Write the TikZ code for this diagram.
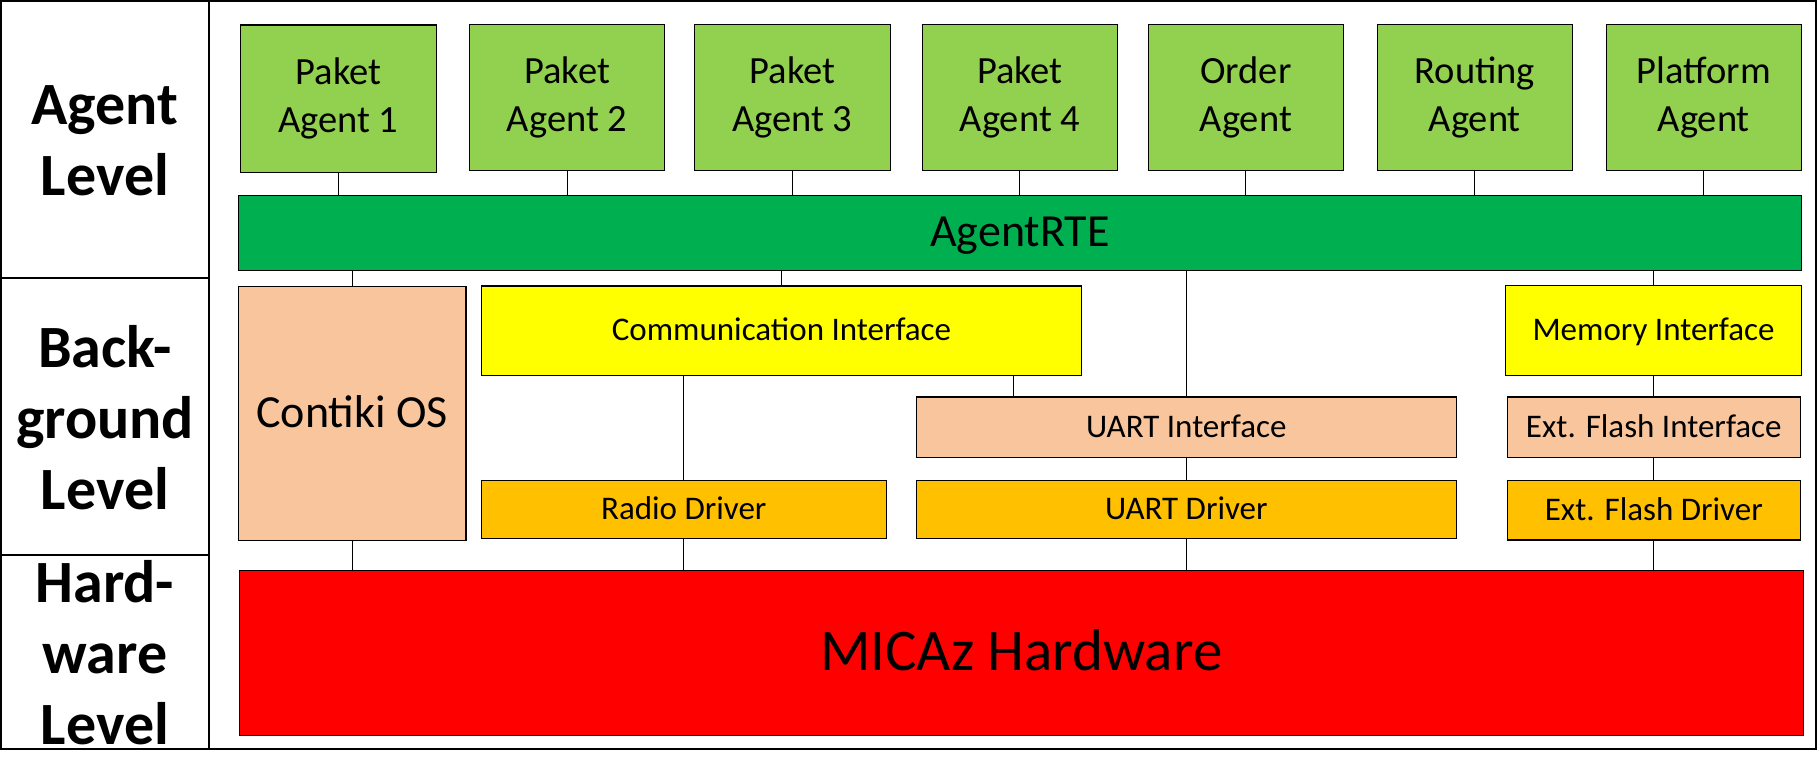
\documentclass[tikz,border=0pt]{standalone}
\usepackage{fontspec}
\setmainfont{Carlito}
\definecolor{agentgreen}{HTML}{92D050}
\definecolor{rtegreen}{HTML}{00B050}
\definecolor{ifyellow}{HTML}{FFFF00}
\definecolor{peach}{HTML}{F8C59C}
\definecolor{drvorange}{HTML}{FFC000}
\definecolor{hwred}{HTML}{FF0000}
\begin{document}
\begin{tikzpicture}[x=1pt,y=-1pt,
  box/.style={draw=black,line width=1.4pt,inner sep=0pt,align=center,anchor=center},
  agentbox/.style={box,fill=agentgreen,minimum height=146pt,font=\fontsize{38.5}{48}\selectfont},
  ifbox/.style={box,text height=19.8pt,text depth=0pt,font=\fontsize{33}{40}\selectfont},
  midbox/.style={box,text height=27.6pt,text depth=0pt,font=\fontsize{46}{54}\selectfont},
  bigbox/.style={box,text height=35.4pt,text depth=0pt,font=\fontsize{59}{70}\selectfont},
  lvl/.style={align=center,inner sep=0pt,font=\fontsize{60}{71}\selectfont\bfseries},
  conn/.style={draw=black,line width=1pt},
  frameline/.style={draw=black,line width=2pt}]
\useasboundingbox (0,0) rectangle (1819,761);
% frame
\draw[frameline] (1,1) rectangle (1816,749);
\draw[frameline] (209.3,1) -- (209.3,749);
\draw[frameline] (1,278) -- (209.3,278);
\draw[frameline] (1,555) -- (209.3,555);
% level labels
\node[lvl] (lagent) at (105,141) {Agent\\Level};
\node[lvl] (lback) at (105,418) {Back-\\ground\\Level};
\node[lvl] (lhw) at (105,653) {Hard-\\ware\\Level};
% agents
\node[agentbox,minimum width=196pt,minimum height=147.3pt] (a1) at (338.3,98.7) {Paket\\Agent 1};
\node[agentbox,minimum width=194.9pt] (a2) at (567.05,97.3) {Paket\\Agent 2};
\node[agentbox,minimum width=195.7pt] (a3) at (792.35,97.3) {Paket\\Agent 3};
\node[agentbox,minimum width=195.3pt] (a4) at (1019.95,97.3) {Paket\\Agent 4};
\node[agentbox,minimum width=194.9pt] (order) at (1245.85,97.3) {Order\\Agent};
\node[agentbox,minimum width=195pt] (routing) at (1474.8,97.3) {Routing\\Agent};
\node[agentbox,minimum width=195.1pt] (platform) at (1703.75,97.3) {Platform\\Agent};
% runtime
\node[midbox,fill=rtegreen,minimum width=1562.9pt,minimum height=75pt] (rte) at (1019.85,232.8) {AgentRTE};
% background level
\node[midbox,fill=peach,minimum width=227.7pt,minimum height=254pt] (contiki) at (352.25,413.3) {Contiki OS};
\node[ifbox,fill=ifyellow,minimum width=600.4pt,minimum height=89.3pt] (comm) at (781.5,330.65) {Communication Interface};
\node[ifbox,fill=ifyellow,minimum width=296pt,minimum height=90pt] (mem) at (1653.5,330.3) {Memory Interface};
\node[ifbox,fill=peach,minimum width=540pt,minimum height=60.3pt] (uarti) at (1186.3,427.15) {UART Interface};
\node[ifbox,fill=peach,minimum width=293pt,minimum height=60.3pt] (flashi) at (1653.8,427.15) {Ext. Flash Interface};
\node[ifbox,fill=drvorange,minimum width=405pt,minimum height=58pt] (radio) at (683.8,509.3) {Radio Driver};
\node[ifbox,fill=drvorange,minimum width=540pt,minimum height=58pt] (uartd) at (1186.3,509.3) {UART Driver};
\node[ifbox,fill=drvorange,minimum width=293pt,minimum height=59.7pt] (flashd) at (1653.8,510.15) {Ext. Flash Driver};
% hardware
\node[bigbox,fill=hwred,minimum width=1564pt,minimum height=165pt] (hw) at (1021.2,652.8) {MICAz Hardware};
% connectors agents -> rte
\foreach \n in {a1,a2,a3,a4,order,routing,platform}
  \draw[conn] (\n.south) -- (\n.south |- rte.north);
% rte -> background
\draw[conn] (contiki.north) -- (contiki.north |- rte.south);
\draw[conn] (comm.north) -- (comm.north |- rte.south);
\draw[conn] (uarti.north) -- (uarti.north |- rte.south);
\draw[conn] (mem.north) -- (mem.north |- rte.south);
% internal
\draw[conn] (comm.south -| 1013.5,0) -- (uarti.north -| 1013.5,0);
\draw[conn] (comm.south -| radio.north) -- (radio.north);
\draw[conn] (mem.south) -- (mem.south |- flashi.north);
\draw[conn] (uarti.south) -- (uartd.north);
\draw[conn] (flashi.south) -- (flashd.north);
% to hardware
\draw[conn] (contiki.south) -- (contiki.south |- hw.north);
\draw[conn] (radio.south) -- (radio.south |- hw.north);
\draw[conn] (uartd.south) -- (uartd.south |- hw.north);
\draw[conn] (flashd.south) -- (flashd.south |- hw.north);
\end{tikzpicture}
\end{document}
